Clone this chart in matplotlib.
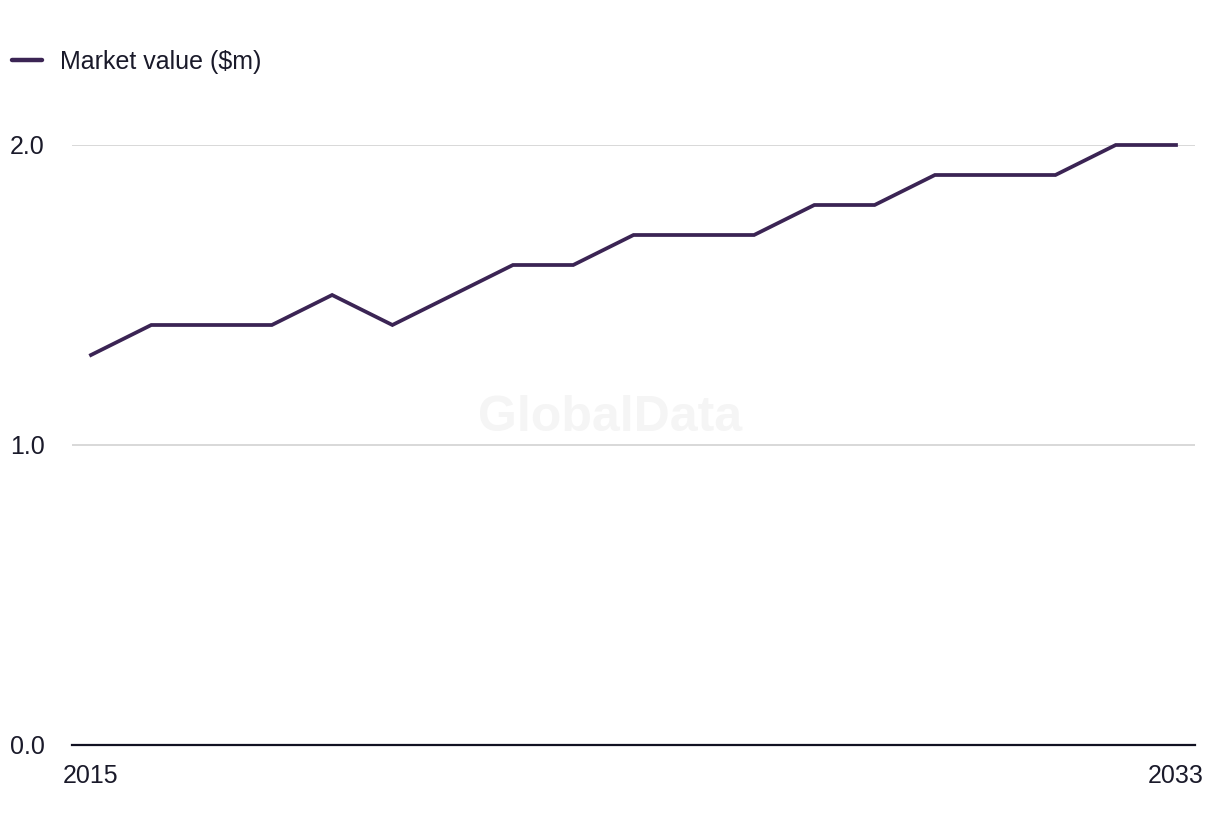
import matplotlib
matplotlib.use("Agg")
import matplotlib.pyplot as plt

# Datos
years = list(range(2015, 2034))
market_value = [1.3, 1.4, 1.4, 1.4, 1.5, 1.4, 1.5, 1.6, 1.6, 1.7,
                1.7, 1.7, 1.8, 1.8, 1.9, 1.9, 1.9, 2.0, 2.0]
y_ticks = [0.0, 1.0, 2.0]
x_ticks = [2015, 2033]

LINE_COLOR = "#3b2454"
TEXT_COLOR = "#1a1a2a"

plt.rcParams["font.family"] = ["Liberation Sans", "DejaVu Sans"]

W, H = 1220, 836
fig = plt.figure(figsize=(W / 100, H / 100), dpi=100)
ax = fig.add_axes([72 / W, (H - 745) / H, (1195 - 72) / W, (745 - 145) / H])

ax.plot(years, market_value, color=LINE_COLOR, lw=2.7, clip_on=False,
        solid_joinstyle="miter", label="Market value ($m)")

ax.set_ylim(0, 2.0)
px_per_year = (1176 - 91) / 18
ax.set_xlim(2015 - 19 / px_per_year, 2033 + 19 / px_per_year)

ax.set_yticks(y_ticks)
ax.set_yticklabels([f"{v:.1f}" for v in y_ticks])
ax.set_xticks(x_ticks)
ax.set_xticklabels([str(x) for x in x_ticks])
ax.grid(axis="y", color="#d6d6d6", lw=1.3)
ax.set_axisbelow(True)

for s in ["top", "right", "left"]:
    ax.spines[s].set_visible(False)
ax.spines["bottom"].set_color("#111122")
ax.spines["bottom"].set_linewidth(1.6)
ax.spines["bottom"].set_zorder(3)

ax.tick_params(axis="both", length=0, labelsize=18, labelcolor=TEXT_COLOR)
ax.tick_params(axis="x", pad=14)
for lab in ax.get_yticklabels():
    lab.set_horizontalalignment("left")
# pad en puntos: 62 px -> 44.6 pt
ax.tick_params(axis="y", pad=44.6)

# Marca de agua
fig.text(610 / W, 1 - 418 / H, "GlobalData", fontsize=36, fontweight="bold",
         color="#f5f5f5", ha="center", va="center", zorder=0)

leg = fig.legend(loc="center left", bbox_to_anchor=(0.002, 1 - 62 / H),
                 frameon=False, fontsize=18, handlelength=1.2,
                 handletextpad=0.72, borderaxespad=0, borderpad=0.4)
for t in leg.get_texts():
    t.set_color(TEXT_COLOR)
for h in leg.get_lines():
    h.set_linewidth(3.2)
    h.set_solid_capstyle("round")

fig.savefig("out.png", dpi=100)
